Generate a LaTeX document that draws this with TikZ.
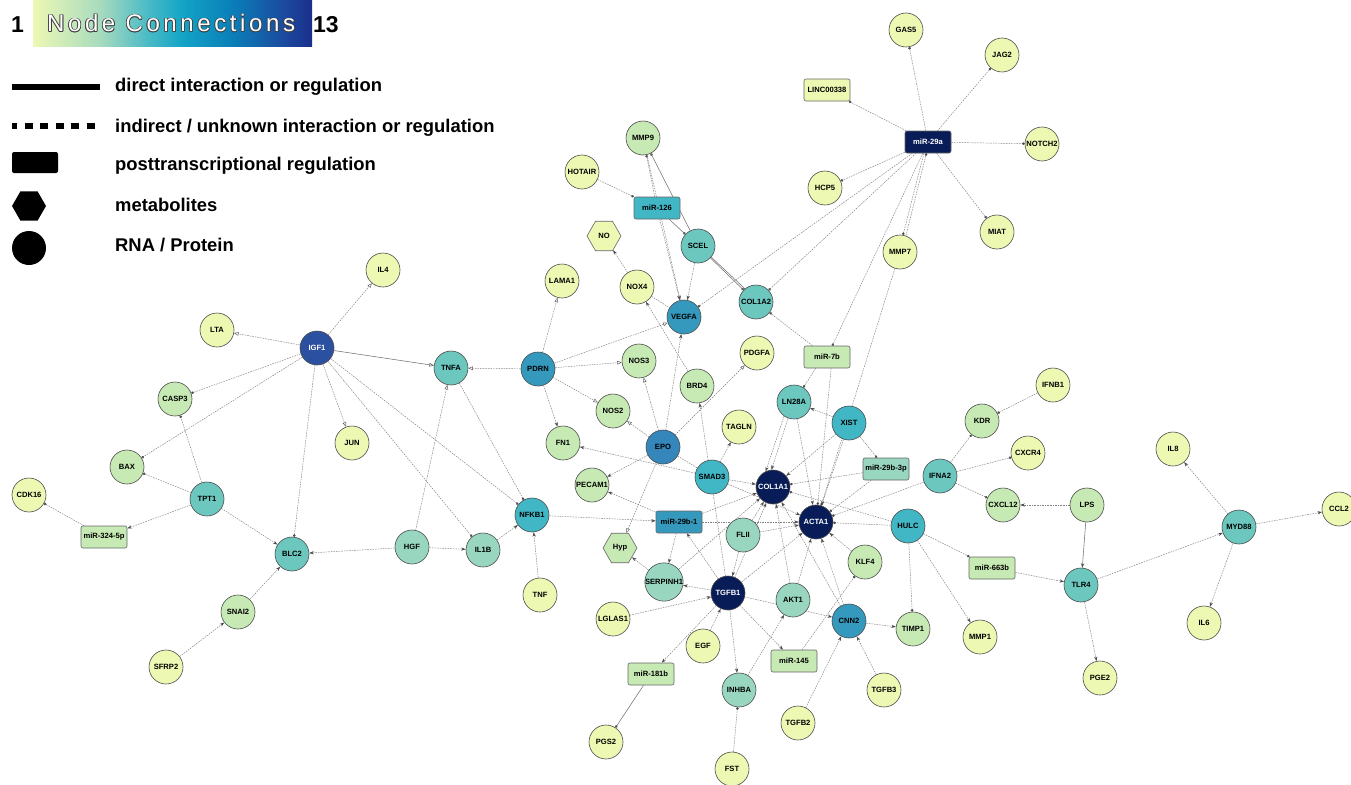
\documentclass[tikz,border=0pt]{standalone}
\usepackage{fontspec}
\setmainfont{Liberation Sans}
\newfontfamily\titlefont[LetterSpace=15]{Liberation Sans}
\usetikzlibrary{arrows.meta,shapes.geometric}
\definecolor{cY}{HTML}{EDF8B3}
\definecolor{cLG}{HTML}{C7E9B4}
\definecolor{cM}{HTML}{98D6C0}
\definecolor{cT}{HTML}{6CC7BF}
\definecolor{cC}{HTML}{41B6C4}
\definecolor{cBT}{HTML}{3599BD}
\definecolor{cB}{HTML}{3486BB}
\definecolor{cDB}{HTML}{2C50A0}
\definecolor{cN}{HTML}{081D58}
\definecolor{g0}{HTML}{EDF8B4}
\definecolor{g1}{HTML}{A8DBBE}
\definecolor{g2}{HTML}{45B9C6}
\definecolor{g3}{HTML}{12A3C6}
\definecolor{g4}{HTML}{0A7DB8}
\definecolor{g5}{HTML}{1B4A9E}
\definecolor{g6}{HTML}{1A2F8C}
\pgfdeclarehorizontalshading{ylgnbu}{100bp}{color(0bp)=(g0); color(25bp)=(g0); color(37bp)=(g1); color(46bp)=(g2); color(52bp)=(g3); color(61bp)=(g4); color(70bp)=(g5); color(75bp)=(g6); color(100bp)=(g6)}
\newcommand\nlab{\fontsize{7.6}{8}\selectfont\bfseries}
\newcommand\leglab{\fontsize{18.4}{21}\selectfont\bfseries}
\pgfdeclarelayer{bg}
\pgfsetlayers{bg,main}
\begin{document}
\begin{tikzpicture}[x=1pt,y=-1pt,
  cn/.style={circle,draw=black!70,line width=0.6pt,minimum size=34pt,inner sep=0pt,font=\nlab},
  rn/.style={rectangle,rounded corners=2pt,draw=black!60,line width=0.6pt,minimum width=46pt,minimum height=22pt,inner sep=0pt,font=\nlab},
  hx/.style={regular polygon,regular polygon sides=6,minimum size=34pt,draw=black!60,line width=0.6pt,inner sep=0pt,font=\nlab},
  wt/.style={text=white},
  edash/.style={draw=black!50,line width=0.45pt,dash pattern=on 1.6pt off 1pt},
  esol/.style={draw=black!55,line width=0.55pt},
  hdot/.style={-{Circle[length=2.6pt,color=black!70]}},
  harr/.style={-{Stealth[length=4.5pt,width=3.2pt,color=black!70]}},
  hopen/.style={-{Triangle[open,length=4.5pt,width=3.6pt,color=black!65]}},
  legt/.style={anchor=base west,inner sep=0pt,font=\leglab}]
\begin{pgfonlayer}{bg}
\fill[white] (0,0) rectangle (1351,784);
\end{pgfonlayer}
\useasboundingbox (0,0) rectangle (1351,784);
% ---------- legend ----------
\node[anchor=base west,inner sep=0pt,font=\fontsize{23}{26}\selectfont\bfseries] (nlow) at (11,33) {1};
\shade[shading=ylgnbu] (33,1) rectangle (312,47);
\foreach \dx/\dy [count=\k] in {0.8/0,-0.8/0,0/0.8,0/-0.8,0.55/0.55,-0.55/0.55,0.55/-0.55,-0.55/-0.55}{
  \node[anchor=base west,inner sep=0pt,text=black!75,font=\titlefont\fontsize{24}{26}\selectfont] (tout\k) at (47+\dx,32+\dy) {Node Connections};
}
\node[anchor=base west,inner sep=0pt,text=white,font=\titlefont\fontsize{24}{26}\selectfont] (title) at (47,32) {Node Connections};
\node[anchor=base west,inner sep=0pt,font=\fontsize{23}{26}\selectfont\bfseries] (nhigh) at (313,33) {13};
\draw[line width=6.5pt] (12,87) -- (100,87);
\draw[line width=6.5pt,dash pattern=on 8pt off 7.5pt,dash phase=3pt] (12,126) -- (100,126);
\fill[rounded corners=2pt] (12,152) rectangle (58,173);
\node[regular polygon,regular polygon sides=6,minimum size=34pt,inner sep=0pt,fill=black] (lghex) at (29,206) {};
\node[circle,minimum size=34pt,inner sep=0pt,fill=black] (lgcirc) at (29,248) {};
\node[legt] (l1) at (115,92) {direct interaction or regulation};
\node[legt] (l2) at (115,132) {indirect / unknown interaction or regulation};
\node[legt] (l3) at (115,170) {posttranscriptional regulation};
\node[legt] (l4) at (115,211) {metabolites};
\node[legt] (l5) at (115,251) {RNA / Protein};
% ---------- nodes: yellow ----------
\node[cn,fill=cY] (GAS5) at (906,30) {GAS5};
\node[cn,fill=cY] (JAG2) at (1002,55) {JAG2};
\node[cn,fill=cY] (NOTCH2) at (1042,144) {NOTCH2};
\node[cn,fill=cY] (HCP5) at (825,188) {HCP5};
\node[cn,fill=cY] (MIAT) at (997,232) {MIAT};
\node[cn,fill=cY] (MMP7) at (900,252) {MMP7};
\node[cn,fill=cY] (HOTAIR) at (582,172) {HOTAIR};
\node[cn,fill=cY] (NOX4) at (637,287) {NOX4};
\node[cn,fill=cY] (LAMA1) at (562,281) {LAMA1};
\node[cn,fill=cY] (IL4) at (383,270) {IL4};
\node[cn,fill=cY] (LTA) at (217,330) {LTA};
\node[cn,fill=cY] (JUN) at (352,443) {JUN};
\node[cn,fill=cY] (CDK16) at (29,495) {CDK16};
\node[cn,fill=cY] (PDGFA) at (757,353) {PDGFA};
\node[cn,fill=cY] (TAGLN) at (739,427) {TAGLN};
\node[cn,fill=cY] (IFNB1) at (1053,385) {IFNB1};
\node[cn,fill=cY] (CXCR4) at (1028,453) {CXCR4};
\node[cn,fill=cY] (TNF) at (540,595) {TNF};
\node[cn,fill=cY] (LGLAS1) at (613,619) {LGLAS1};
\node[cn,fill=cY] (EGF) at (703,646) {EGF};
\node[cn,fill=cY] (SFRP2) at (166,667) {SFRP2};
\node[cn,fill=cY] (IL8) at (1173,449) {IL8};
\node[cn,fill=cY] (CCL2) at (1339,509) {CCL2};
\node[cn,fill=cY] (IL6) at (1204,623) {IL6};
\node[cn,fill=cY] (PGE2) at (1100,678) {PGE2};
\node[cn,fill=cY] (MMP1) at (980,637) {MMP1};
\node[cn,fill=cY] (TGFB3) at (884,690) {TGFB3};
\node[cn,fill=cY] (TGFB2) at (798,723) {TGFB2};
\node[cn,fill=cY] (PGS2) at (606,742) {PGS2};
\node[cn,fill=cY] (FST) at (732,769) {FST};
\node[rn,fill=cY] (linc) at (827,90) {LINC00338};
\node[hx,fill=cY] (NO) at (604,236) {NO};
% ---------- light green ----------
\node[cn,fill=cLG] (MMP9) at (643,138) {MMP9};
\node[cn,fill=cLG] (NOS3) at (639,361) {NOS3};
\node[cn,fill=cLG] (NOS2) at (613,411) {NOS2};
\node[cn,fill=cLG] (BRD4) at (697,386) {BRD4};
\node[cn,fill=cLG] (FN1) at (563,443) {FN1};
\node[cn,fill=cLG] (CASP3) at (175,399) {CASP3};
\node[cn,fill=cLG] (BAX) at (127,467) {BAX};
\node[cn,fill=cLG] (KDR) at (982,421) {KDR};
\node[cn,fill=cLG] (CXCL12) at (1003,505) {CXCL12};
\node[cn,fill=cLG] (LPS) at (1087,505) {LPS};
\node[cn,fill=cLG] (PECAM1) at (592,485) {PECAM1};
\node[cn,fill=cLG] (KLF4) at (865,562) {KLF4};
\node[cn,fill=cLG] (SNAI2) at (238,612) {SNAI2};
\node[cn,fill=cLG] (TIMP1) at (913,629) {TIMP1};
\node[rn,fill=cLG] (mir324) at (104,537) {miR-324-5p};
\node[rn,fill=cLG] (mir7b) at (827,357) {miR-7b};
\node[rn,fill=cLG] (mir145) at (794,661) {miR-145};
\node[rn,fill=cLG] (mir663b) at (992,568) {miR-663b};
\node[rn,fill=cLG] (mir181b) at (651,674) {miR-181b};
\node[hx,fill=cLG] (Hyp) at (620,548) {Hyp};
% ---------- mint ----------
\node[cn,fill=cM] (HGF) at (412,547) {HGF};
\node[cn,fill=cM] (IL1B) at (483,550) {IL1B};
\node[cn,fill=cM] (SERPINH1) at (664,582) {SERPINH1};
\node[cn,fill=cM] (AKT1) at (793,600) {AKT1};
\node[cn,fill=cM] (INHBA) at (739,690) {INHBA};
\node[cn,fill=cM] (FLII) at (743,535) {FLII};
\node[rn,fill=cM] (mir29b3p) at (886,469) {miR-29b-3p};
% ---------- teal ----------
\node[cn,fill=cT] (TPT1) at (207,499) {TPT1};
\node[cn,fill=cT] (BLC2) at (292,554) {BLC2};
\node[cn,fill=cT] (TNFA) at (451,368) {TNFA};
\node[cn,fill=cT] (SCEL) at (698,246) {SCEL};
\node[cn,fill=cT] (COL1A2) at (756,302) {COL1A2};
\node[cn,fill=cT] (LN28A) at (794,402) {LN28A};
\node[cn,fill=cT] (IFNA2) at (940,476) {IFNA2};
\node[cn,fill=cT] (TLR4) at (1081,585) {TLR4};
\node[cn,fill=cT] (MYD88) at (1239,527) {MYD88};
% ---------- cyan ----------
\node[cn,fill=cC] (NFKB1) at (532,515) {NFKB1};
\node[cn,fill=cC] (SMAD3) at (712,477) {SMAD3};
\node[cn,fill=cC] (XIST) at (849,423) {XIST};
\node[cn,fill=cC] (HULC) at (908,526) {HULC};
\node[rn,fill=cC] (mir126) at (657,208) {miR-126};
% ---------- blues ----------
\node[cn,fill=cBT] (PDRN) at (538,369) {PDRN};
\node[cn,fill=cBT] (VEGFA) at (684,317) {VEGFA};
\node[cn,fill=cBT] (CNN2) at (849,621) {CNN2};
\node[rn,fill=cBT] (mir29b1) at (679,522) {miR-29b-1};
\node[cn,fill=cB] (EPO) at (663,447) {EPO};
\node[cn,fill=cDB,wt] (IGF1) at (317,348) {IGF1};
\node[cn,fill=cN,wt] (COL1A1) at (773,487) {COL1A1};
\node[cn,fill=cN,wt] (ACTA1) at (816,522) {ACTA1};
\node[cn,fill=cN,wt] (TGFB1) at (728,593) {TGFB1};
\node[rn,fill=cN,wt] (mir29a) at (928,142) {miR-29a};
% ---------- edges ----------
\begin{pgfonlayer}{bg}
\draw[edash,hdot] (mir29a) -- (GAS5);
\draw[edash,hdot] (mir29a) -- (JAG2);
\draw[edash,hdot] (mir29a) -- (linc);
\draw[edash,hdot] (mir29a) -- (NOTCH2);
\draw[edash,hdot] (mir29a) -- (HCP5);
\draw[edash,hdot] (mir29a) -- (MIAT);
\draw[edash,hdot] (mir29a.250) -- (MMP7.80);
\draw[edash,hdot] (MMP7.70) -- (mir29a.262);
\draw[edash,hdot] (mir29a) -- (VEGFA);
\draw[edash,hdot] (mir29a) -- (COL1A2);
\draw[edash,hdot] (mir29a) -- (mir7b);
\draw[edash,hdot] (HOTAIR) -- (mir126);
\draw[edash,hdot] (mir126) -- (MMP9);
\draw[esol,hdot] (SCEL) -- (MMP9);
\draw[esol,hdot] (mir126) -- (SCEL);
\draw[edash,harr] (MMP9) -- (VEGFA);
\draw[edash,harr] (mir126) -- (VEGFA);
\draw[edash,harr] (SCEL) -- (VEGFA);
\draw[esol,hdot] (SCEL) -- (COL1A2);
\draw[esol] (SCEL.-40) -- (COL1A2.130);
\draw[edash,harr] (NOX4) -- (NO);
\draw[edash] (NOX4) -- (VEGFA);
\draw[edash,harr] (BRD4) -- (NOX4);
\draw[edash,harr] (EPO) -- (VEGFA);
\draw[edash,hopen] (PDRN) -- (VEGFA);
\draw[edash,hopen] (PDRN) -- (NOS3);
\draw[edash,hopen] (PDRN) -- (LAMA1);
\draw[edash,hopen] (PDRN) -- (TNFA);
\draw[edash,hopen] (PDRN) -- (NOS2);
\draw[edash,harr] (PDRN) -- (FN1);
\draw[edash,hopen] (EPO) -- (NOS3);
\draw[edash,hopen] (EPO) -- (NOS2);
\draw[edash,hopen] (EPO) -- (PDGFA);
\draw[edash,harr] (SMAD3) -- (FN1);
\draw[edash,harr] (EPO) -- (PECAM1);
\draw[edash,hopen] (EPO) -- (Hyp);
\draw[edash] (EPO) -- (SMAD3);
\draw[edash,harr] (TGFB1) -- (BRD4);
\draw[edash,harr] (SMAD3) -- (TAGLN);
\draw[edash,harr] (SMAD3) -- (COL1A1);
\draw[edash,harr] (SMAD3) -- (ACTA1);
\draw[edash,harr] (mir29b1) -- (PECAM1);
\draw[edash,harr] (NFKB1) -- (mir29b1);
\draw[edash,harr] (mir29b1) -- (COL1A1);
\draw[edash,harr] (mir29b1) -- (ACTA1);
\draw[edash,harr] (TGFB1) -- (mir29b1);
\draw[edash,harr] (mir29b1) -- (SERPINH1);
\draw[edash,harr] (SERPINH1) -- (Hyp);
\draw[edash,harr] (TGFB1) -- (SERPINH1);
\draw[edash,harr] (SERPINH1) -- (COL1A1);
\draw[edash,harr] (LGLAS1) -- (TGFB1);
\draw[edash,harr] (EGF) -- (TGFB1);
\draw[edash,harr] (TGFB1) -- (mir181b);
\draw[esol,hdot] (mir181b) -- (PGS2);
\draw[edash,harr] (TGFB1) -- (INHBA);
\draw[edash,hdot] (FST) -- (INHBA);
\draw[edash,harr] (INHBA) -- (AKT1);
\draw[edash,harr] (TGFB1) -- (mir145);
\draw[edash,harr] (TGFB1) -- (CNN2);
\draw[edash,hdot] (mir145) -- (KLF4);
\draw[edash,harr] (TGFB2) -- (CNN2);
\draw[edash,harr] (TGFB3) -- (CNN2);
\draw[edash,harr] (CNN2) -- (TIMP1);
\draw[edash,harr] (CNN2) -- (ACTA1);
\draw[edash,harr] (CNN2) -- (COL1A1);
\draw[edash,harr] (KLF4) -- (ACTA1);
\draw[edash,harr] (AKT1) -- (ACTA1);
\draw[edash,harr] (AKT1) -- (COL1A1);
\draw[edash,harr] (FLII) -- (COL1A1);
\draw[edash,harr] (FLII) -- (ACTA1);
\draw[edash,harr] (FLII) -- (TGFB1);
\draw[edash,harr] (TGFB1) -- (COL1A1);
\draw[edash,harr] (TGFB1) -- (ACTA1);
\draw[edash,hdot] (HULC) -- (ACTA1);
\draw[edash,hdot] (HULC) -- (COL1A1);
\draw[edash,hdot] (HULC) -- (TIMP1);
\draw[edash,harr] (HULC) -- (MMP1);
\draw[edash,hdot] (HULC) -- (mir663b);
\draw[edash,harr] (mir663b) -- (TLR4);
\draw[esol,harr] (LPS) -- (TLR4);
\draw[edash,harr] (LPS) -- (CXCL12);
\draw[edash,hdot] (IFNA2) -- (KDR);
\draw[edash,hdot] (IFNB1) -- (KDR);
\draw[edash,hdot] (IFNA2) -- (CXCR4);
\draw[edash,hdot] (IFNA2) -- (CXCL12);
\draw[edash,hdot] (IFNA2) -- (ACTA1);
\draw[edash,harr] (TLR4) -- (MYD88);
\draw[edash,harr] (TLR4) -- (PGE2);
\draw[edash,harr] (MYD88) -- (IL8);
\draw[edash,harr] (MYD88) -- (CCL2);
\draw[edash,harr] (MYD88) -- (IL6);
\draw[edash,harr] (XIST) -- (LN28A);
\draw[edash,hdot] (XIST) -- (mir29b3p);
\draw[edash,harr] (XIST) -- (COL1A1);
\draw[edash,harr] (XIST) -- (ACTA1);
\draw[edash,hdot] (MMP7) -- (ACTA1);
\draw[edash,hdot] (mir29b3p) -- (COL1A1);
\draw[edash,hdot] (mir29b3p) -- (ACTA1);
\draw[edash,hdot] (mir7b) -- (COL1A2);
\draw[edash,hdot] (mir7b.225) -- (LN28A);
\draw[edash,hdot] (mir7b.290) -- (ACTA1);
\draw[edash,harr] (LN28A.250) -- (COL1A1.95);
\draw[edash,harr] (LN28A.235) -- (COL1A1.115);
\draw[edash,harr] (LN28A) -- (ACTA1);
\draw[edash,hopen] (IGF1) -- (IL4);
\draw[edash,hopen] (IGF1) -- (LTA);
\draw[esol,hopen] (IGF1) -- (TNFA);
\draw[edash,hdot] (IGF1) -- (CASP3);
\draw[edash,hdot] (IGF1) -- (BAX);
\draw[edash,hopen] (IGF1) -- (JUN);
\draw[edash,hdot] (IGF1) -- (BLC2);
\draw[edash,hdot] (IGF1) -- (IL1B);
\draw[edash,hdot] (IGF1) -- (NFKB1);
\draw[edash,hdot] (TPT1) -- (CASP3);
\draw[edash,hdot] (TPT1) -- (BAX);
\draw[edash,harr] (TPT1) -- (mir324);
\draw[edash,harr] (TPT1) -- (BLC2);
\draw[edash,hdot] (mir324) -- (CDK16);
\draw[edash,harr] (HGF) -- (BLC2);
\draw[edash,harr] (HGF) -- (IL1B);
\draw[edash,hopen] (HGF) -- (TNFA);
\draw[edash,harr] (IL1B) -- (NFKB1);
\draw[edash,harr] (TNF) -- (NFKB1);
\draw[edash,hdot] (TNFA) -- (NFKB1);
\draw[edash,harr] (SNAI2) -- (BLC2);
\draw[edash,harr] (SFRP2) -- (SNAI2);
\end{pgfonlayer}
\end{tikzpicture}
\end{document}
